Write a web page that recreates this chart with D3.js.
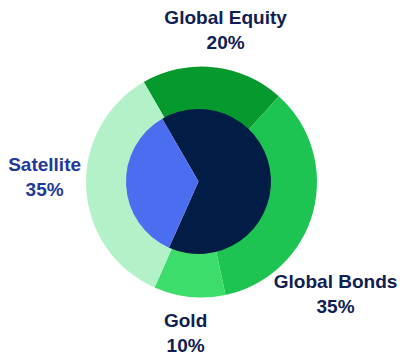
<!DOCTYPE html>
<html>
<head>
<meta charset="utf-8">
<style>
  body { margin: 0; background: #fff; }
  svg { display: block; }
  .lbl { font-family: "Liberation Sans", Arial, sans-serif; font-weight: bold; font-size: 19px; }
</style>
</head>
<body>
<svg id="chart" width="403" height="359"></svg>
<script src="https://cdn.jsdelivr.net/npm/d3@7"></script>
<script>
// outer ring
var assets = ["Global Equity", "Global Bonds", "Gold", "Satellite"];
var assetShare = [20, 35, 10, 35];
var assetColors = ["#05992e", "#1ec451", "#3ddd6c", "#b3f2c9"];
// inner pie
var groups = ["Core", "Satellite"];
var groupShare = [65, 35];
var groupColors = ["#011c45", "#4b6ef1"];

var svg = d3.select("#chart");
var startAngle = -Math.PI / 6;

var pie = d3.pie().sort(null)
    .startAngle(startAngle)
    .endAngle(startAngle + 2 * Math.PI);

var ringCx = 201.5, ringCy = 182;
var ring = svg.append("g").attr("transform", "translate(" + ringCx + "," + ringCy + ")");
var ringArc = d3.arc().innerRadius(60).outerRadius(115.5);
var outerData = pie(assetShare);

ring.selectAll("path")
  .data(outerData)
  .enter().append("path")
    .attr("d", ringArc)
    .attr("fill", function(d, i) { return assetColors[i]; });

var core = svg.append("g").attr("transform", "translate(198.5,181.5)");
var coreArc = d3.arc().innerRadius(0).outerRadius(72.5);
core.selectAll("path")
  .data(pie(groupShare))
  .enter().append("path")
    .attr("d", coreArc)
    .attr("fill", function(d, i) { return groupColors[i]; });

// label placement: nudge angle (deg) and radius per slice
var labelNudge = [3, 25, 0, 5];
var labelRadius = [154, 175, 152, 157];
var labelColor = ["#0f2052", "#0f2052", "#0f2052", "#23399a"];

var labels = ring.selectAll("text")
  .data(outerData)
  .enter().append("text")
    .attr("class", "lbl")
    .attr("text-anchor", "middle")
    .attr("fill", function(d, i) { return labelColor[i]; })
    .attr("transform", function(d, i) {
      var a = (d.startAngle + d.endAngle) / 2 + labelNudge[i] * Math.PI / 180;
      var p = d3.pointRadial(a, labelRadius[i]);
      return "translate(" + p[0] + "," + p[1] + ")";
    });

labels.append("tspan")
    .attr("x", 0)
    .attr("y", -6)
    .text(function(d, i) { return assets[i]; });
labels.append("tspan")
    .attr("x", 0)
    .attr("y", 19)
    .text(function(d, i) { return assetShare[i] + "%"; });
</script>
</body>
</html>
